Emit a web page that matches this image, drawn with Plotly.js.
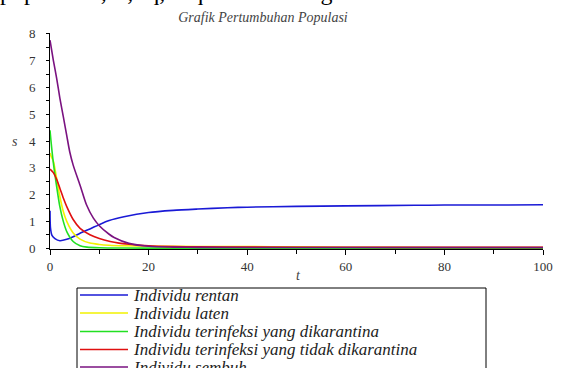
<!DOCTYPE html>
<html>
<head>
<meta charset="utf-8">
<script src="https://cdn.plot.ly/plotly-3.0.1.min.js"></script>
<style>html,body{margin:0;padding:0;background:#fff;}#chart{width:561px;height:368px;}</style>
</head>
<body>
<div id="chart"></div>
<script>
// ---- data ----
var seriesNames = ["Individu rentan", "Individu laten", "Individu terinfeksi yang dikarantina",
                   "Individu terinfeksi yang tidak dikarantina", "Individu sembuh"];

var tS = [0, 0.1, 0.4, 1, 2, 3.4, 4.7, 6.1, 8.1, 10, 12, 15, 20, 25, 30, 36, 40, 50, 60, 74, 80, 90, 100];
var S  = [1.40, 0.75, 0.48, 0.36, 0.28, 0.33, 0.43, 0.56, 0.72, 0.88, 1.03, 1.17, 1.33, 1.41, 1.46, 1.51, 1.53, 1.56, 1.58, 1.60, 1.61, 1.61, 1.62];

var tE = [0, 0.3, 0.67, 1.35, 2, 2.7, 3.4, 4.7, 6.1, 8.1, 10, 12, 15, 20, 30, 40, 50, 60, 80, 100];
var E  = [3.55, 3.4, 3.25, 2.6, 1.93, 1.37, 1.0, 0.57, 0.34, 0.19, 0.14, 0.11, 0.09, 0.075, 0.065, 0.06, 0.05, 0.035, 0.025, 0.02];

var tIq = [0, 0.2, 0.67, 1.35, 2, 2.7, 3.4, 4.7, 6.1, 7.5, 10, 15, 20, 100];
var Iq  = [4.4, 4.0, 3.2, 2.3, 1.55, 1.0, 0.62, 0.25, 0.09, 0.04, 0.015, 0.006, 0.004, 0.002];

var tInq = [0, 0.67, 1.35, 2, 2.7, 3.4, 4.7, 6.1, 8.1, 10, 12.2, 14, 16, 20, 25, 30, 40, 60, 80, 100];
var Inq  = [2.95, 2.82, 2.57, 2.24, 1.87, 1.55, 1.07, 0.74, 0.5, 0.36, 0.25, 0.19, 0.15, 0.09, 0.06, 0.05, 0.04, 0.035, 0.03, 0.03];

var tR = [0, 0.67, 1.35, 2, 2.7, 3.4, 4, 4.7, 6.1, 7.4, 8.8, 10, 12, 13, 16, 20, 25, 30, 50, 100];
var R  = [7.76, 7.02, 6.34, 5.6, 4.91, 4.2, 3.6, 3.1, 2.35, 1.62, 1.12, 0.84, 0.52, 0.4, 0.18, 0.07, 0.04, 0.03, 0.028, 0.025];

var xTicks = [0, 20, 40, 60, 80, 100];
var yTicks = [0, 1, 2, 3, 4, 5, 6, 7, 8];

var colors = ["#1a1ad6", "#f2f200", "#22e022", "#e01010", "#7a1280"];

// ---- build traces ----
var xs = [tS, tE, tIq, tInq, tR];
var ys = [S, E, Iq, Inq, R];
var traces = xs.map(function (x, i) {
  return {
    x: x, y: ys[i], name: seriesNames[i], type: "scatter", mode: "lines",
    line: {color: colors[i], width: 1.6, shape: "spline", smoothing: 0.7},
    showlegend: false
  };
});

// pixel helpers for paper coords
var W = 561, H = 368, L = 50, Rm = 18, T = 33, B = 119;
var pw = W - L - Rm, ph = H - T - B;
function px2x(p) { return (p - L) / pw; }
function px2y(p) { return (H - B - p) / ph; }

var serif = "Liberation Serif";
var tickFont = {family: serif, size: 13, color: "#333"};

// legend drawn as a box with line samples and labels
var legRows = [295, 313, 331.5, 349.5, 367];
var shapes = [{
  type: "rect", xref: "paper", yref: "paper",
  x0: px2x(77), x1: px2x(486), y0: px2y(288), y1: px2y(380),
  line: {color: "#000", width: 1}, fillcolor: "rgba(0,0,0,0)"
}];
var annotations = [];
seriesNames.forEach(function (nm, i) {
  shapes.push({type: "line", xref: "paper", yref: "paper",
    x0: px2x(80), x1: px2x(128), y0: px2y(legRows[i]), y1: px2y(legRows[i]),
    line: {color: colors[i], width: 1.6}});
  annotations.push({text: nm, xref: "paper", yref: "paper",
    x: px2x(131), y: px2y(legRows[i]), xanchor: "left", yanchor: "middle",
    showarrow: false, font: {family: serif, size: 17, color: "#222", style: "italic"}});
});

annotations.push(
  {text: "s", xref: "paper", yref: "paper", x: px2x(15), y: px2y(141),
   xanchor: "center", yanchor: "middle", showarrow: false,
   font: {family: serif, size: 14, color: "#444", style: "italic"}},
  {text: "t", xref: "paper", yref: "paper", x: px2x(298), y: px2y(275),
   xanchor: "center", yanchor: "middle", showarrow: false,
   font: {family: serif, size: 14, color: "#444", style: "italic"}},
  {text: "populasi S, E, Iq, Inq adalah sebagai berikut.", xref: "paper", yref: "paper",
   x: px2x(-2), y: px2y(-23), xanchor: "left", yanchor: "top", showarrow: false,
   font: {family: serif, size: 24, color: "#000"}}
);

var layout = {
  width: W, height: H,
  margin: {l: L, r: Rm, t: T, b: B, pad: 0},
  paper_bgcolor: "#fff", plot_bgcolor: "#fff",
  showlegend: false,
  title: {
    text: "Grafik Pertumbuhan Populasi",
    font: {family: serif, size: 14, color: "#444", style: "italic"},
    x: 263 / W, xanchor: "center", xref: "container",
    y: 1 - 17 / H, yanchor: "middle", yref: "container"
  },
  xaxis: {
    range: [0, 100], tickvals: xTicks, ticktext: xTicks.map(String),
    showgrid: false, zeroline: false, showline: true, linecolor: "#000", linewidth: 1,
    ticks: "outside", ticklen: 5, tickcolor: "#000", tickwidth: 1,
    minor: {dtick: 10, ticks: "outside", ticklen: 4, tickcolor: "#000", showgrid: false},
    tickfont: tickFont, fixedrange: true
  },
  yaxis: {
    range: [-0.03, 8.03], tickvals: yTicks, ticktext: yTicks.map(String),
    showgrid: false, zeroline: false, showline: true, linecolor: "#000", linewidth: 1,
    ticks: "outside", ticklen: 3, tickcolor: "#000", tickwidth: 1,
    minor: {dtick: 0.5, ticks: "outside", ticklen: 3, tickcolor: "#000", showgrid: false},
    tickfont: tickFont, ticklabelstandoff: 8, fixedrange: true
  },
  shapes: shapes,
  annotations: annotations
};

Plotly.newPlot("chart", traces, layout, {staticPlot: true, displayModeBar: false});
</script>
</body>
</html>
